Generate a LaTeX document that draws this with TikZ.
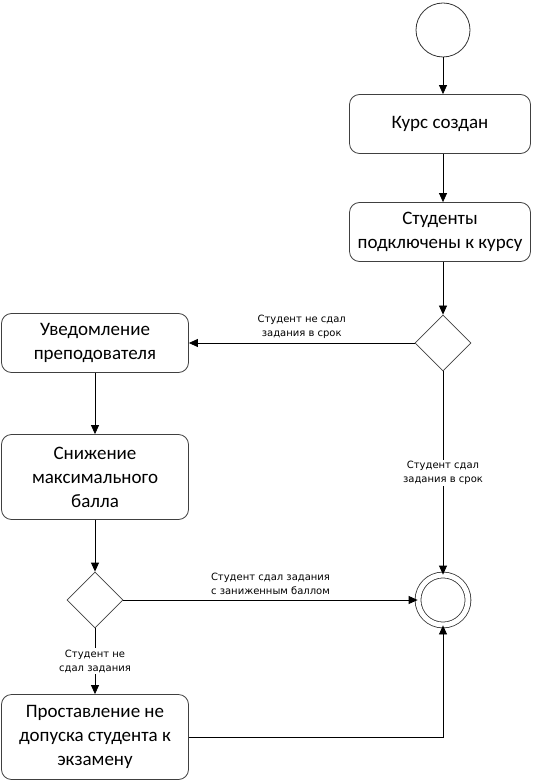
\documentclass[tikz,border=0pt]{standalone}
\usepackage{fontspec}
\setmainfont{Carlito}
\newfontfamily\labelfont{DejaVu Sans}
\usetikzlibrary{shapes.geometric, positioning, arrows.meta, calc}

\begin{document}
\begin{tikzpicture}[
        x=1pt, y=-1pt,
        line width=0.8pt,
        % Style for the activity boxes
        actbox/.style={
            draw=black!75,
            rounded corners=10pt,
            minimum width=181pt,
            minimum height=59pt,
            align=center,
            inner sep=2pt,
            font=\fontsize{19}{24}\selectfont
        },
        % Style for the decision diamonds
        decision/.style={
            draw=black!75,
            diamond,
            minimum size=56pt,
            inner sep=0pt
        },
        % Style for the start and final states
        startnode/.style={
            draw=black!80,
            circle,
            minimum size=54pt,
            inner sep=0pt
        },
        finalnode/.style={
            draw=black!80,
            circle,
            double=white,
            double distance=5pt,
            minimum size=50pt,
            inner sep=0pt
        },
        % Style for the connectors
        flow/.style={
            -{Triangle[length=9pt, width=8pt]},
            draw=black
        },
        % Style for the guard labels
        guard/.style={
            align=center,
            fill=white,
            inner sep=1.5pt,
            font=\labelfont\fontsize{10}{14}\selectfont
        }
    ]
    \useasboundingbox (0,0) rectangle (542,783);

    % ==========================================
    % NODES
    % ==========================================
    \node[startnode] (start) at (443, 30) {};
    \node[actbox] (created) at (440, 124) {Курс создан};
    \node[actbox] (joined) at (440, 232) {Студенты\\подключены к курсу};
    \node[decision] (check1) at (443, 343) {};
    \node[actbox, minimum width=187pt] (notify) at (95, 343) {Уведомление\\преподователя};
    \node[actbox, minimum width=187pt, minimum height=85pt] (lower) at (95, 477) {Снижение\\максимального\\балла};
    \node[decision] (check2) at (95, 600) {};
    \node[finalnode] (final) at (443, 600) {};
    \node[actbox, minimum width=187pt, minimum height=85pt] (deny) at (95, 737) {Проставление не\\допуска студента к\\экзамену};

    % ==========================================
    % CONNECTORS
    % ==========================================
    \draw[flow] (start) -- (start |- created.north);
    \draw[flow] (start |- created.south) -- (start |- joined.north);
    \draw[flow] (start |- joined.south) -- (check1);
    \draw[flow] (check1) -- (notify)
        node[midway, above=3pt, guard, fill=none] {Студент не сдал\\задания в срок};
    \draw[flow] (check1) -- (final)
        node[pos=0.5, guard] {Студент сдал\\задания в срок};
    \draw[flow] (notify) -- (lower);
    \draw[flow] (lower) -- (check2);
    \draw[flow] (check2) -- (final)
        node[midway, above=3pt, guard, fill=none] {Студент сдал задания\\с заниженным баллом};
    \draw[flow] (check2) -- (deny)
        node[midway, guard] {Студент не\\сдал задания};
    \draw[flow] (deny.east) -| (final.south);

\end{tikzpicture}
\end{document}
